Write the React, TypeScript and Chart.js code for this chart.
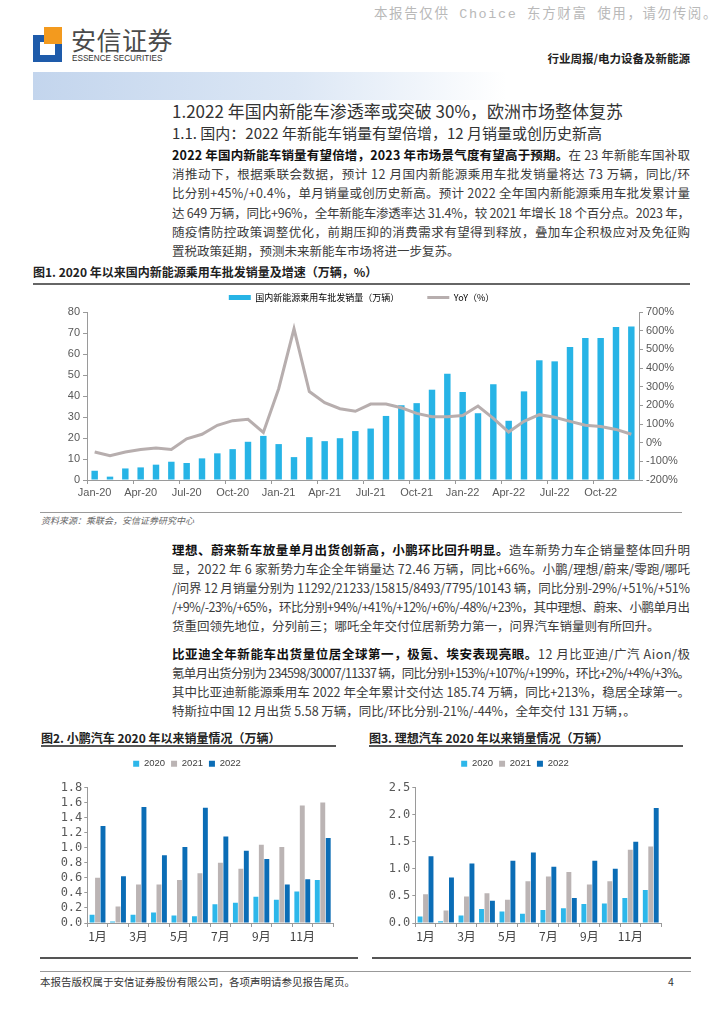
import React, { useEffect, useLayoutEffect, useRef } from 'react';
import { Chart, registerables } from 'chart.js';

Chart.register(...registerables);

// ---------------- data ----------------
const nevMonths = [
  'Jan-20', 'Feb-20', 'Mar-20', 'Apr-20', 'May-20', 'Jun-20', 'Jul-20', 'Aug-20', 'Sep-20', 'Oct-20', 'Nov-20', 'Dec-20',
  'Jan-21', 'Feb-21', 'Mar-21', 'Apr-21', 'May-21', 'Jun-21', 'Jul-21', 'Aug-21', 'Sep-21', 'Oct-21', 'Nov-21', 'Dec-21',
  'Jan-22', 'Feb-22', 'Mar-22', 'Apr-22', 'May-22', 'Jun-22', 'Jul-22', 'Aug-22', 'Sep-22', 'Oct-22', 'Nov-22', 'Dec-22',
];
const nevSales = [
  4.4, 1.6, 5.5, 6.0, 7.3, 8.7, 8.1, 10.3, 12.7, 14.7, 18.2, 21.0,
  17.1, 10.9, 20.4, 18.5, 19.9, 23.3, 24.5, 30.5, 35.6, 36.6, 43.0, 50.6,
  41.9, 31.8, 45.6, 28.2, 42.2, 57.0, 56.5, 63.3, 67.6, 67.6, 72.8, 73.1,
];
const nevYoY = [
  -50, -70, -50, -37, -29, -36, 21, 45, 93, 118, 125, 55,
  289, 610, 274, 214, 182, 168, 207, 207, 187, 157, 139, 139,
  146, 196, 130, 57, 114, 150, 136, 114, 93, 86, 71, 45,
];
const nevSalesLabel = '国内新能源乘用车批发销量（万辆）';
const nevYoYLabel = 'YoY（%）';

const monthLabels = ['1月', '2月', '3月', '4月', '5月', '6月', '7月', '8月', '9月', '10月', '11月', '12月'];
const yearLabels = ['2020', '2021', '2022'];

const xp2020 = [0.11, 0.02, 0.11, 0.14, 0.10, 0.09, 0.25, 0.27, 0.35, 0.31, 0.42, 0.57];
const xp2021 = [0.60, 0.22, 0.51, 0.51, 0.57, 0.66, 0.80, 0.72, 1.04, 1.01, 1.56, 1.60];
const xp2022 = [1.29, 0.62, 1.54, 0.90, 1.01, 1.53, 1.15, 0.96, 0.85, 0.51, 0.58, 1.13];

const li2020 = [0.12, 0.03, 0.14, 0.26, 0.21, 0.17, 0.24, 0.27, 0.35, 0.36, 0.46, 0.61];
const li2021 = [0.53, 0.23, 0.49, 0.55, 0.43, 0.77, 0.86, 0.94, 0.71, 0.77, 1.35, 1.41];
const li2022 = [1.23, 0.84, 1.10, 0.41, 1.15, 1.30, 1.04, 0.46, 1.15, 1.00, 1.50, 2.12];

// ---------------- styles ----------------
const CJK = "'Noto Sans CJK SC', 'Noto Sans', sans-serif";
const SANS = "'Liberation Sans', Arial, 'Noto Sans CJK SC', sans-serif";
const MONO = "'DejaVu Sans Mono', 'Liberation Mono', monospace";
const BLUE = '#27B4E6';
const GRAY = '#B7AEAE';
const C2020 = '#2DB7EA';
const C2021 = '#BBB4B4';
const C2022 = '#0B6DB6';
const AXIS = '#9A9A9A';
const TICK = '#595959';

const legendSpacer = (extra: number) => ({
  id: 'legendSpacer',
  beforeLayout(chart: any) {
    const lg = chart.legend;
    if (lg && !lg.__patched) {
      const fit = lg.fit.bind(lg);
      lg.fit = function () {
        fit();
        this.height += extra;
      };
      lg.__patched = true;
    }
  },
});

// ---------------- charts ----------------
function NevChart() {
  const ref = useRef<HTMLCanvasElement>(null);
  useEffect(() => {
    const chart = new Chart(ref.current as HTMLCanvasElement, {
      type: 'bar',
      data: {
        labels: nevMonths,
        datasets: [
          {
            type: 'line',
            label: nevYoYLabel,
            data: nevYoY,
            yAxisID: 'y1',
            borderColor: GRAY,
            backgroundColor: GRAY,
            borderWidth: 3,
            pointRadius: 0,
            tension: 0,
            order: 0,
          } as any,
          {
            type: 'bar',
            label: nevSalesLabel,
            data: nevSales,
            yAxisID: 'y',
            backgroundColor: BLUE,
            barPercentage: 0.42,
            categoryPercentage: 1,
            order: 1,
          } as any,
        ],
      },
      options: {
        animation: false,
        responsive: false,
        maintainAspectRatio: false,
        layout: { padding: 0 },
        plugins: {
          tooltip: { enabled: false },
          legend: {
            position: 'top',
            labels: {
              usePointStyle: true,
              pointStyleWidth: 22,
              boxHeight: 5,
              padding: 28,
              color: '#333333',
              font: { family: CJK, size: 9 },
              generateLabels: (c: any) => {
                const ds = c.data.datasets;
                return [
                  { text: ds[1].label, fillStyle: BLUE, strokeStyle: BLUE, lineWidth: 0, pointStyle: 'rect', datasetIndex: 1, hidden: false },
                  { text: ds[0].label, fillStyle: 'rgba(0,0,0,0)', strokeStyle: GRAY, lineWidth: 3, pointStyle: 'line', datasetIndex: 0, hidden: false },
                ];
              },
            },
          },
        },
        scales: {
          x: {
            offset: true,
            grid: {
              offset: true,
              drawOnChartArea: false,
              tickLength: 4,
              color: AXIS,
              tickColor: (c: any) => (c.index % 3 === 0 ? AXIS : 'rgba(0,0,0,0)'),
            },
            border: { display: true, color: AXIS },
            ticks: {
              autoSkip: false,
              maxRotation: 0,
              minRotation: 0,
              padding: 2,
              color: TICK,
              font: { family: SANS, size: 11 },
              callback: (_v: any, i: number) => (i % 3 === 0 ? nevMonths[i] : ''),
            },
            afterFit: (s: any) => {
              s.height = 20;
            },
          },
          y: {
            position: 'left',
            min: 0,
            max: 80,
            grid: { drawOnChartArea: false, tickLength: 4, color: AXIS },
            border: { display: true, color: AXIS },
            ticks: { stepSize: 10, autoSkip: false, padding: 3, color: TICK, font: { family: SANS, size: 11 } },
            afterFit: (s: any) => {
              s.width = 54;
            },
          },
          y1: {
            position: 'right',
            min: -200,
            max: 700,
            grid: { drawOnChartArea: false, tickLength: 4, color: AXIS },
            border: { display: true, color: AXIS },
            ticks: {
              stepSize: 100,
              autoSkip: false,
              padding: 3,
              color: TICK,
              font: { family: SANS, size: 11 },
              callback: (v: any) => v + '%',
            },
            afterFit: (s: any) => {
              s.width = 51;
            },
          },
        },
      } as any,
      plugins: [legendSpacer(0)],
    });
    return () => chart.destroy();
  }, []);
  return (
    <canvas
      ref={ref}
      width={657}
      height={235}
      style={{ position: 'absolute', left: 33, top: 265, width: 657, height: 235 }}
    />
  );
}

function YearBars(props: {
  left: number;
  width: number;
  yWidth: number;
  padRight: number;
  d2020: number[];
  d2021: number[];
  d2022: number[];
  yMax: number;
  yStep: number;
}) {
  const ref = useRef<HTMLCanvasElement>(null);
  useEffect(() => {
    const common = { categoryPercentage: 0.8, barPercentage: 0.9 };
    const chart = new Chart(ref.current as HTMLCanvasElement, {
      type: 'bar',
      data: {
        labels: monthLabels,
        datasets: [
          { label: yearLabels[0], data: props.d2020, backgroundColor: C2020, ...common },
          { label: yearLabels[1], data: props.d2021, backgroundColor: C2021, ...common },
          { label: yearLabels[2], data: props.d2022, backgroundColor: C2022, ...common },
        ],
      },
      options: {
        animation: false,
        responsive: false,
        maintainAspectRatio: false,
        layout: { padding: { left: 0, right: props.padRight, top: 0, bottom: 0 } },
        plugins: {
          tooltip: { enabled: false },
          legend: {
            position: 'top',
            labels: {
              boxWidth: 6,
              boxHeight: 6,
              padding: 6,
              color: '#404040',
              font: { family: SANS, size: 9.5 },
            },
          },
        },
        scales: {
          x: {
            offset: true,
            grid: { offset: true, drawOnChartArea: false, tickLength: 4, color: AXIS },
            border: { display: true, color: AXIS },
            ticks: {
              autoSkip: false,
              maxRotation: 0,
              minRotation: 0,
              padding: 2,
              color: '#404040',
              font: { family: CJK, size: 12 },
              callback: (_v: any, i: number) => (i % 2 === 0 ? monthLabels[i] : ''),
            },
            afterFit: (s: any) => {
              s.height = 20;
            },
          },
          y: {
            min: 0,
            max: props.yMax,
            grid: { drawOnChartArea: false, tickLength: 3, color: AXIS },
            border: { display: true, color: AXIS },
            ticks: {
              stepSize: props.yStep,
              autoSkip: false,
              padding: 2,
              color: TICK,
              font: { family: MONO, size: 12 },
              callback: (v: any) => Number(v).toFixed(1),
            },
            afterFit: (s: any) => {
              s.width = props.yWidth;
            },
          },
        },
      } as any,
      plugins: [legendSpacer(9)],
    });
    return () => chart.destroy();
  }, []);
  return (
    <canvas
      ref={ref}
      width={props.width}
      height={190}
      style={{ position: 'absolute', left: props.left, top: 752.5, width: props.width, height: 190 }}
    />
  );
}

// ---------------- text helpers ----------------
function Txt(props: { x: number; y: number; size: number; right?: boolean; style?: any; children: any }) {
  const { x, y, size, right, style, children } = props;
  const pos: any = right ? { right: 724 - x } : { left: x };
  return (
    <div
      style={{
        position: 'absolute',
        ...pos,
        top: y - size * 0.75,
        fontSize: size,
        lineHeight: size * 1.5 + 'px',
        whiteSpace: 'nowrap',
        fontFamily: CJK,
        ...style,
      }}
    >
      {children}
    </div>
  );
}

function TLine(props: { y: number; b?: string; t: string; last?: boolean }) {
  const ref = useRef<HTMLDivElement>(null);
  useLayoutEffect(() => {
    const el = ref.current;
    if (!el || props.last) return;
    const fit = () => {
      el.style.letterSpacing = '0px';
      const w = el.getBoundingClientRect().width;
      const n = (el.textContent || '').length;
      if (n > 1) el.style.letterSpacing = (518 - w) / (n - 1) + 'px';
    };
    fit();
    const f: any = (document as any).fonts;
    if (f && f.ready) f.ready.then(fit);
  }, []);
  return (
    <div
      ref={ref}
      style={{
        position: 'absolute',
        left: 172,
        top: props.y - 10,
        lineHeight: '20px',
        fontSize: 12.5,
        whiteSpace: 'nowrap',
        color: '#3c3c3c',
        fontFamily: CJK,
      }}
    >
      {props.b ? <b style={{ color: '#111' }}>{props.b}</b> : null}
      {props.t}
    </div>
  );
}

const para1 = [
  { b: '2022 年国内新能车销量有望倍增，2023 年市场景气度有望高于预期。', t: '在 23 年新能车国补取' },
  { t: '消推动下，根据乘联会数据，预计 12 月国内新能源乘用车批发销量将达 73 万辆，同比/环' },
  { t: '比分别+45%/+0.4%，单月销量或创历史新高。预计 2022 全年国内新能源乘用车批发累计量' },
  { t: '达 649 万辆，同比+96%，全年新能车渗透率达 31.4%，较 2021 年增长 18 个百分点。2023 年，' },
  { t: '随疫情防控政策调整优化，前期压抑的消费需求有望得到释放，叠加车企积极应对及免征购' },
  { t: '置税政策延期，预测未来新能车市场将进一步复苏。', last: true },
];
const para1Y = [155, 174.2, 193.4, 212.6, 231.8, 251];

const para2 = [
  { b: '理想、蔚来新车放量单月出货创新高，小鹏环比回升明显。', t: '造车新势力车企销量整体回升明' },
  { t: '显，2022 年 6 家新势力车企全年销量达 72.46 万辆，同比+66%。小鹏/理想/蔚来/零跑/哪吒' },
  { t: '/问界 12 月销量分别为 11292/21233/15815/8493/7795/10143 辆，同比分别-29%/+51%/+51%' },
  { t: '/+9%/-23%/+65%，环比分别+94%/+41%/+12%/+6%/-48%/+23%，其中理想、蔚来、小鹏单月出' },
  { t: '货重回领先地位，分列前三；哪吒全年交付位居新势力第一，问界汽车销量则有所回升。', last: true },
];
const para2Y = [550, 569, 588, 607, 626];

const para3 = [
  { b: '比亚迪全年新能车出货量位居全球第一，极氪、埃安表现亮眼。', t: '12 月比亚迪/广汽 Aion/极' },
  { t: '氪单月出货分别为 234598/30007/11337 辆，同比分别+153%/+107%/+199%，环比+2%/+4%/+3%。' },
  { t: '其中比亚迪新能源乘用车 2022 年全年累计交付达 185.74 万辆，同比+213%，稳居全球第一。' },
  { t: '特斯拉中国 12 月出货 5.58 万辆，同比/环比分别-21%/-44%，全年交付 131 万辆，。', last: true },
];
const para3Y = [654, 673, 692, 711];

function HLine(props: { x1: number; x2: number; y: number; h: number; c: string }) {
  return (
    <div
      style={{
        position: 'absolute',
        left: props.x1,
        top: props.y - props.h / 2,
        width: props.x2 - props.x1,
        height: props.h,
        background: props.c,
      }}
    />
  );
}

export default function App() {
  return (
    <div
      style={{
        position: 'absolute',
        left: 0,
        top: 0,
        width: 724,
        height: 1024,
        background: '#ffffff',
        overflow: 'hidden',
        fontFamily: CJK,
      }}
    >
      {/* watermark */}
      <Txt x={718} y={15} size={13.5} right style={{ color: '#b9b9b9', letterSpacing: 1.6, fontFamily: "'Liberation Mono', 'Noto Sans CJK SC', monospace" }}>
        本报告仅供 Choice 东方财富 使用，请勿传阅。
      </Txt>

      {/* logo */}
      <div style={{ position: 'absolute', left: 33, top: 35, width: 29, height: 27, background: '#1E5BAA' }} />
      <div style={{ position: 'absolute', left: 40, top: 42, width: 15, height: 13, background: '#ffffff' }} />
      <div style={{ position: 'absolute', left: 44, top: 27, width: 18, height: 17, background: '#F39A1E' }} />
      <Txt x={71} y={40} size={25} style={{ color: '#4a4a4a', letterSpacing: 0.5 }}>
        安信证券
      </Txt>
      <Txt
        x={72}
        y={58.5}
        size={9.5}
        style={{
          color: '#333',
          fontFamily: "'Liberation Sans Narrow', 'Liberation Sans', Arial, sans-serif",
          transform: 'scaleX(0.86)',
          transformOrigin: 'left center',
        }}
      >
        ESSENCE SECURITIES
      </Txt>
      <Txt x={690} y={59} size={11.5} right style={{ color: '#222', fontWeight: 'bold' }}>
        行业周报/电力设备及新能源
      </Txt>

      {/* band */}
      <div
        style={{
          position: 'absolute',
          left: 33,
          top: 72,
          width: 657,
          height: 28,
          background: 'linear-gradient(90deg, #c3d5ed 0%, #dce7f5 40%, #ffffff 72%)',
        }}
      />

      {/* titles */}
      <Txt x={172} y={111} size={17} style={{ color: '#333' }}>
        1.2022 年国内新能车渗透率或突破 30%，欧洲市场整体复苏
      </Txt>
      <Txt x={172} y={133} size={15} style={{ color: '#333' }}>
        1.1. 国内：2022 年新能车销量有望倍增，12 月销量或创历史新高
      </Txt>

      {para1.map((l, i) => (
        <TLine key={'p1' + i} y={para1Y[i]} b={(l as any).b} t={l.t} last={(l as any).last} />
      ))}

      {/* figure 1 */}
      <Txt x={33} y={272} size={12} style={{ color: '#222', fontWeight: 'bold' }}>
        图1. 2020 年以来国内新能源乘用车批发销量及增速（万辆，%）
      </Txt>
      <HLine x1={33} x2={690} y={284} h={1.5} c="#666" />
      <NevChart />
      <HLine x1={40} x2={682} y={512.5} h={1.2} c="#9a9a9a" />
      <Txt x={41} y={521} size={9} style={{ color: '#666', fontStyle: 'italic' }}>
        资料来源：乘联会，安信证券研究中心
      </Txt>

      {para2.map((l, i) => (
        <TLine key={'p2' + i} y={para2Y[i]} b={(l as any).b} t={l.t} last={(l as any).last} />
      ))}
      {para3.map((l, i) => (
        <TLine key={'p3' + i} y={para3Y[i]} b={(l as any).b} t={l.t} last={(l as any).last} />
      ))}

      {/* figure 2 */}
      <Txt x={41} y={738} size={12} style={{ color: '#222', fontWeight: 'bold' }}>
        图2. 小鹏汽车 2020 年以来销量情况（万辆）
      </Txt>
      <HLine x1={41} x2={336} y={746} h={1.5} c="#555" />
      <YearBars left={41} width={317} yWidth={46.3} padRight={25} d2020={xp2020} d2021={xp2021} d2022={xp2022} yMax={1.8} yStep={0.2} />

      {/* figure 3 */}
      <Txt x={369} y={738} size={12} style={{ color: '#222', fontWeight: 'bold' }}>
        图3. 理想汽车 2020 年以来销量情况（万辆）
      </Txt>
      <HLine x1={369} x2={683} y={746} h={1.5} c="#555" />
      <YearBars left={369} width={318} yWidth={46.3} padRight={26} d2020={li2020} d2021={li2021} d2022={li2022} yMax={2.5} yStep={0.5} />

      {/* footer */}
      <HLine x1={40} x2={358} y={958} h={2} c="#555" />
      <HLine x1={372} x2={691} y={958} h={2} c="#555" />
      <HLine x1={40} x2={691} y={971} h={1} c="#999" />
      <Txt x={40} y={982} size={10.5} style={{ color: '#333' }}>
        本报告版权属于安信证券股份有限公司，各项声明请参见报告尾页。
      </Txt>
      <Txt x={668} y={982} size={10.5} style={{ color: '#333' }}>
        4
      </Txt>
    </div>
  );
}
